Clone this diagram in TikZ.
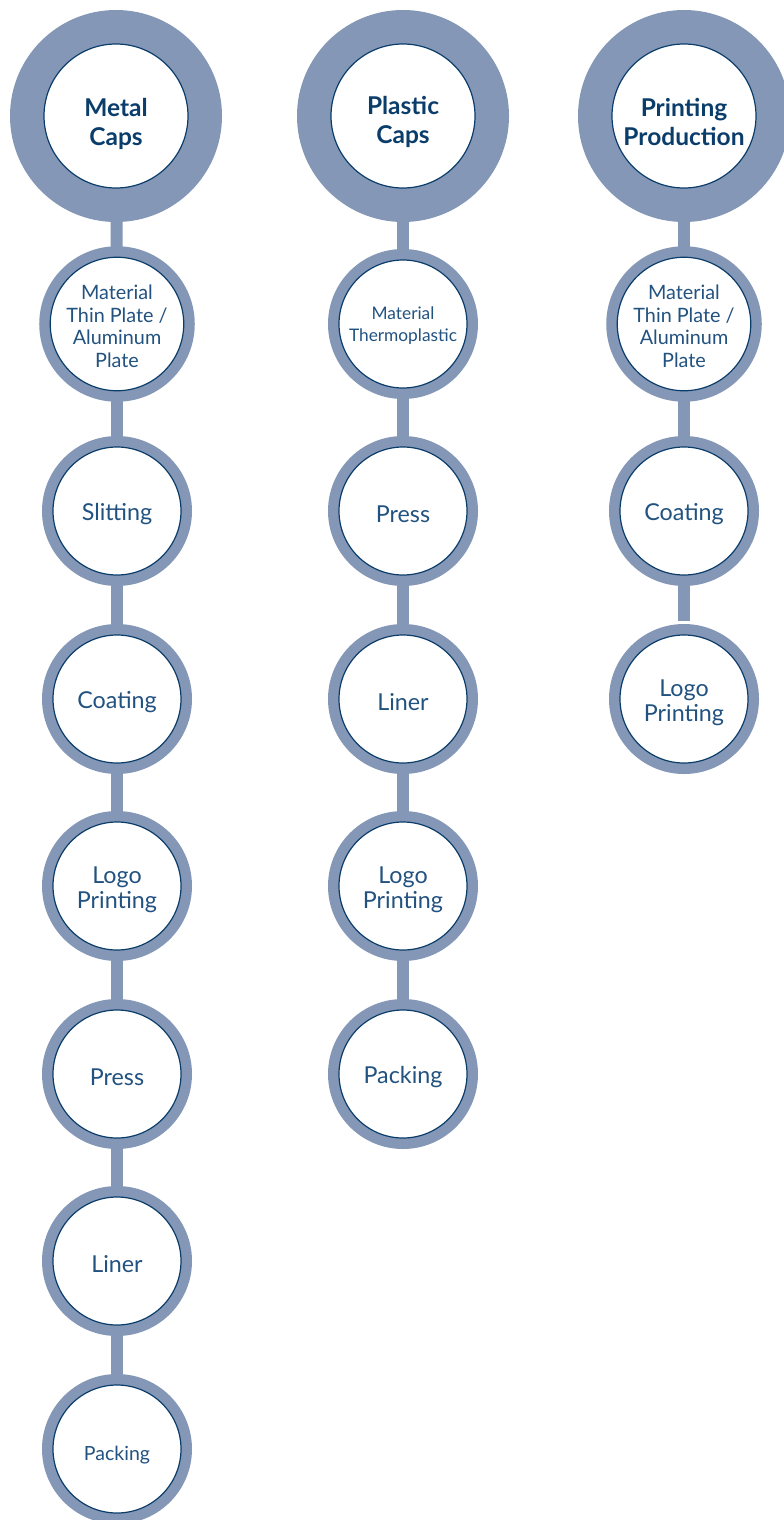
\documentclass[tikz,border=0pt]{standalone}
\usepackage{fontspec}
\setmainfont{Lato}
\usetikzlibrary{backgrounds}
\definecolor{ringblue}{HTML}{8497B6}
\definecolor{edgeblue}{HTML}{0B3D6B}
\definecolor{textblue}{HTML}{22527F}
\tikzset{
  bigstep/.style={circle, fill=white, draw=edgeblue, line width=1.2pt,
    minimum size=144pt, inner sep=0pt, align=center, text=edgeblue,
    font=\bfseries\fontsize{24.5}{29}\selectfont,
    preaction={draw=ringblue, line width=68pt}},
  stepnode/.style={circle, fill=white, draw=edgeblue, line width=1.2pt,
    minimum size=128pt, inner sep=0pt, align=center, text=textblue,
    font=\fontsize{23.3}{25}\selectfont,
    preaction={draw=ringblue, line width=22pt}},
  smalltext/.style={font=\fontsize{19.8}{22.7}\selectfont},
  link/.style={draw=ringblue, line width=12pt}
}
\begin{document}
\begin{tikzpicture}[x=1pt,y=-1pt]
\def\bigup{\rule{0pt}{34pt}}
\def\up{\rule{0pt}{24pt}}
\def\smallup{\rule{0pt}{19pt}}
\useasboundingbox (0,0) rectangle (784,1520);
% metal caps
\node[bigstep] (m0) at (116,116) {\bigup Metal\\Caps};
\node[stepnode, smalltext] (m1) at (117,324) {\smallup Material\\Thin Plate /\\Aluminum\\Plate};
\node[stepnode] (m2) at (117,511) {\up Slitting};
\node[stepnode] (m3) at (117,699) {\up Coating};
\node[stepnode] (m4) at (117,886) {\up Logo\\Printing};
\node[stepnode] (m5) at (117,1074) {\up Press};
\node[stepnode] (m6) at (117,1261) {\up Liner};
\node[stepnode, font=\fontsize{19.5}{22}\selectfont] (m7) at (117,1449) {\rule{0pt}{27pt}Packing};
% plastic caps
\node[bigstep] (p0) at (403,116) {\rule{0pt}{30pt}Plastic\\Caps};
\node[stepnode, font=\fontsize{17.3}{22}\selectfont] (p1) at (403,324) {\rule{0pt}{16pt}Material\\Thermoplastic};
\node[stepnode] (p2) at (403,511) {\up Press};
\node[stepnode] (p3) at (403,699) {\up Liner};
\node[stepnode] (p4) at (403,886) {\up Logo\\Printing};
\node[stepnode] (p5) at (403,1074) {\up Packing};
% printing production
\node[bigstep] (r0) at (684,116) {\rule{0pt}{30pt}Printing\\Production};
\node[stepnode, smalltext] (r1) at (684,324) {\smallup Material\\Thin Plate /\\Aluminum\\Plate};
\node[stepnode] (r2) at (684,511) {\up Coating};
\node[stepnode] (r3) at (684,699) {\up Logo\\Printing};
\begin{scope}[on background layer]
\draw[link] (m0) -- (m1);
\draw[link] (m1) -- (m2);
\draw[link] (m2) -- (m3);
\draw[link] (m3) -- (m4);
\draw[link] (m4) -- (m5);
\draw[link] (m5) -- (m6);
\draw[link] (m6) -- (m7);
\draw[link] (p0) -- (p1);
\draw[link] (p1) -- (p2);
\draw[link] (p2) -- (p3);
\draw[link] (p3) -- (p4);
\draw[link] (p4) -- (p5);
\draw[link] (r0) -- (r1);
\draw[link] (r1) -- (r2);
\draw[link, shorten >=13pt] (r2) -- (r3);
\end{scope}
\end{tikzpicture}
\end{document}
